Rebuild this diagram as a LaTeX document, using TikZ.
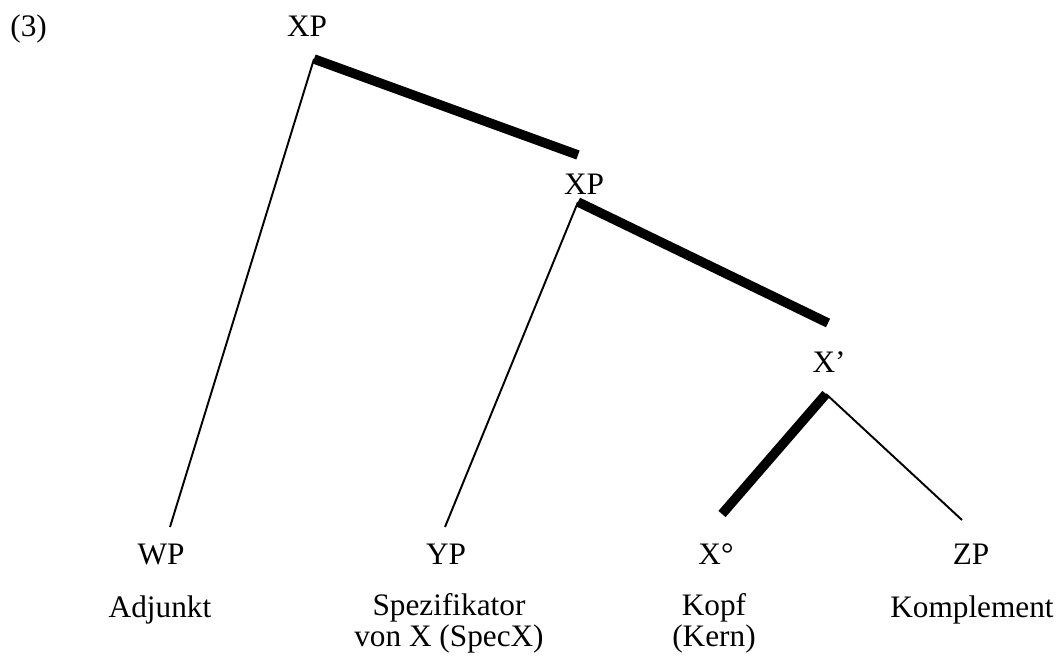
\documentclass[tikz,border=0pt]{standalone}
\usepackage{fontspec}
\setmainfont{Liberation Serif}
\begin{document}
\begin{tikzpicture}[x=0.02cm,y=-0.02cm,
    lbl/.style={anchor=base,inner sep=0pt,font=\fontsize{17.8}{16}\selectfont},
    txt/.style={lbl,align=center},
    kopflinie/.style={line width=0.19cm},
    ast/.style={line width=1.1pt}]
    \useasboundingbox (0,0) rectangle (1059,658);
    % labels
    \node[lbl,anchor=base west] (nr) at (10,37) {(3)};
    \node[lbl] (xp1) at (307,37) {XP};
    \node[lbl] (xp2) at (584,195) {XP};
    \node[lbl] (xbar) at (829,373) {X'};
    \node[lbl] (wp) at (161,565) {WP};
    \node[lbl] (yp) at (446,565) {YP};
    \node[lbl] (x0) at (716,565) {X\textdegree};
    \node[lbl] (zp) at (971,565) {ZP};
    \node[txt] (adj) at (160,618) {Adjunkt};
    \node[txt] (spec) at (449,646) {Spezifikator\\von X (SpecX)};
    \node[txt] (kopf) at (714,646) {Kopf\\(Kern)};
    \node[txt] (kompl) at (972,618) {Komplement};
    % branch ends
    \coordinate (p1) at (314,59);
    \coordinate (p1r) at (578,155);
    \coordinate (p2) at (578,202);
    \coordinate (p2r) at (828,323);
    \coordinate (p3) at (826,394);
    \coordinate (wpe) at (170,527);
    \coordinate (ype) at (445,527);
    \coordinate (x0e) at (722,514);
    \coordinate (zpe) at (962,520);
    % branches
    \draw[ast] (p1) -- (wpe);
    \draw[ast] (p2) -- (ype);
    \draw[ast] (p3) -- (zpe);
    \draw[kopflinie] (p1) -- (p1r);
    \draw[kopflinie] (p2) -- (p2r);
    \draw[kopflinie] (p3) -- (x0e);
\end{tikzpicture}
\end{document}
